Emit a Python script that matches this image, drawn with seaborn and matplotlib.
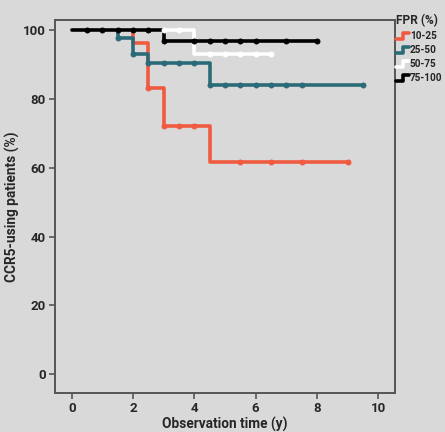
import matplotlib
matplotlib.use("Agg")
import matplotlib.pyplot as plt
import seaborn as sns
import pandas as pd
from matplotlib.lines import Line2D
from matplotlib.legend_handler import HandlerBase

# ---- data ----
groups = ["10-25", "25-50", "50-75", "75-100"]
colors = ["#f05a40", "#2b6b78", "#ffffff", "#000000"]

step_t_red = [0, 2, 2.5, 3, 4.5, 9]
step_s_red = [100, 96.4, 83.1, 72.1, 61.7, 61.7]
cens_t_red = [2.5, 3, 3.5, 4, 5.5, 6.5, 7.5, 9]
cens_s_red = [83.1, 72.1, 72.1, 72.1, 61.7, 61.7, 61.7, 61.7]

step_t_teal = [0, 1.5, 2, 2.5, 4.5, 9.5]
step_s_teal = [100, 97.9, 93.0, 90.5, 84.0, 84.0]
cens_t_teal = [1.5, 2, 2.5, 3, 3.5, 4, 4.5, 5, 5.5, 6, 6.5, 7, 7.5, 9.5]
cens_s_teal = [97.9, 93.0, 90.5, 90.5, 90.5, 90.5, 84.0, 84.0, 84.0, 84.0, 84.0, 84.0, 84.0, 84.0]

step_t_white = [0, 4, 6.5]
step_s_white = [100, 93.2, 93.2]
cens_t_white = [3, 3.5, 4.5, 5, 5.5, 6, 6.5]
cens_s_white = [100, 100, 93.2, 93.2, 93.2, 93.2, 93.2]

step_t_black = [0, 3, 8]
step_s_black = [100, 96.9, 96.9]
cens_t_black = [0.5, 1, 1.5, 2, 2.5, 3, 4, 4.5, 5, 5.5, 6, 7, 8]
cens_s_black = [100, 100, 100, 100, 100, 96.9, 96.9, 96.9, 96.9, 96.9, 96.9, 96.9, 96.9]

x_ticks = [0, 2, 4, 6, 8, 10]
y_ticks = [0, 20, 40, 60, 80, 100]

steps = [(step_t_red, step_s_red), (step_t_teal, step_s_teal),
         (step_t_white, step_s_white), (step_t_black, step_s_black)]
cens = [(cens_t_red, cens_s_red), (cens_t_teal, cens_s_teal),
        (cens_t_white, cens_s_white), (cens_t_black, cens_s_black)]

bg = "#d9d9d9"
sns.set_theme(style="ticks")
plt.rcParams["font.family"] = ["Roboto", "DejaVu Sans"]
plt.rcParams["font.weight"] = "bold"

fig = plt.figure(figsize=(4.45, 4.32), dpi=100, facecolor=bg)
ax = fig.add_axes([55/445, 39/432, 340/445, 373/432])
ax.set_facecolor(bg)

for g, col, (t, s), (ct, cs) in zip(groups, colors, steps, cens):
    d = pd.DataFrame({"t": t, "s": s})
    sns.lineplot(data=d, x="t", y="s", ax=ax, color=col, lw=2.6,
                 drawstyle="steps-post", estimator=None, sort=False, label=g)
    dc = pd.DataFrame({"t": ct, "s": cs})
    sns.scatterplot(data=dc, x="t", y="s", ax=ax, color=col, s=14,
                    edgecolor=col, linewidth=0.5, zorder=3, legend=False)

ax.set_xlim(-0.55, 10.55)
ax.set_ylim(-5.5, 103)
ax.set_xticks(x_ticks)
ax.set_yticks(y_ticks)
ax.tick_params(length=4, width=1.2, color="#555555", labelsize=9.5, pad=2.5)
for lab in ax.get_xticklabels() + ax.get_yticklabels():
    lab.set_fontweight("bold")
for sp in ax.spines.values():
    sp.set_visible(True)
    sp.set_color("#555555")
    sp.set_linewidth(1.4)
ax.set_xlabel("Observation time (y)", fontsize=9.8, fontweight="bold", labelpad=1.5)
ax.set_ylabel("CCR5-using patients (%)", fontsize=9.8, fontweight="bold", labelpad=2)


class StepHandler(HandlerBase):
    def create_artists(self, legend, orig_handle, xdescent, ydescent,
                       width, height, fontsize, trans):
        w, h = width, height
        xs = [-xdescent, -xdescent + 0.55 * w, -xdescent + 0.55 * w, -xdescent + w]
        ys = [-ydescent + 0.1 * h, -ydescent + 0.1 * h, -ydescent + 0.9 * h, -ydescent + 0.9 * h]
        ln = Line2D(xs, ys, color=orig_handle.get_color(), lw=2.6, transform=trans)
        return [ln]


handles, labels = ax.get_legend_handles_labels()
leg = fig.legend(handles, labels, title="FPR (%)", loc="upper left",
                 bbox_to_anchor=(396/445, 1 - 14/432), frameon=False,
                 fontsize=7.2, title_fontsize=8.6, handlelength=1.25,
                 handleheight=0.8, handletextpad=0.12, labelspacing=0.4,
                 borderaxespad=0, borderpad=0,
                 handler_map={Line2D: StepHandler()})
leg.get_title().set_fontweight("bold")
leg._legend_box.align = "left"
if ax.get_legend() is not None:
    ax.get_legend().remove()

fig.savefig("out.png", dpi=100, facecolor=bg)
